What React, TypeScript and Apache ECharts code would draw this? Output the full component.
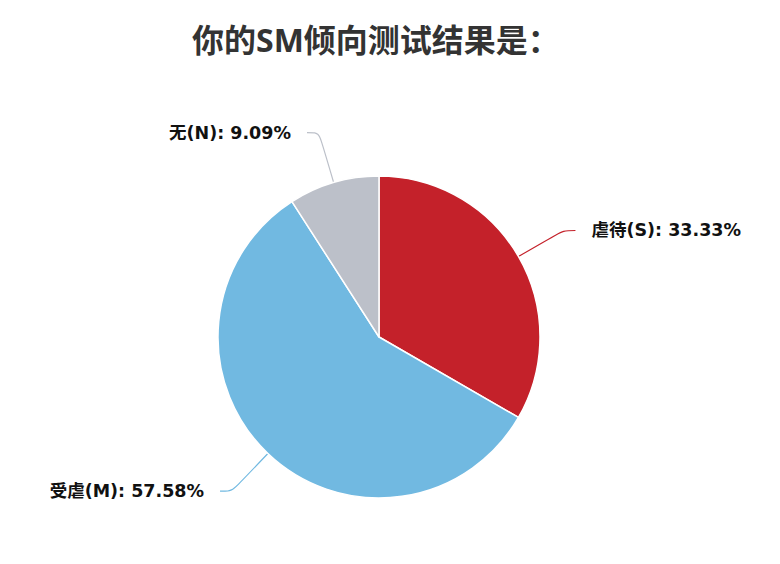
import React, { useEffect, useRef } from "react";
import * as echarts from "echarts";

const titleText = "你的SM倾向测试结果是：";
const categories = ["虐待(S)", "受虐(M)", "无(N)"];
const values = [33.33, 57.58, 9.09];
const colors = ["#c4212a", "#71b9e1", "#bcc0c9"];

export default function App() {
  const ref = useRef<HTMLDivElement>(null);
  useEffect(() => {
    const chart = echarts.init(ref.current!, null, { renderer: "svg" });
    chart.setOption({
      animation: false,
      title: {
        text: titleText,
        left: 187,
        top: 18,
        textStyle: {
          fontSize: 32,
          fontWeight: "bold",
          color: "#333333",
          fontFamily: "'Open Sans', 'Noto Sans CJK SC'",
        },
      },
      series: [
        {
          type: "pie",
          center: [379, 337],
          radius: 161,
          startAngle: 90,
          clockwise: true,
          itemStyle: { borderColor: "#ffffff", borderWidth: 1.5 },
          label: {
            show: true,
            formatter: (p: any) => `${p.name}: ${p.value.toFixed(2)}%`,
            fontSize: 17.5,
            fontWeight: "bold",
            color: "#111111",
            fontFamily: "'DejaVu Sans', 'Noto Sans CJK SC'",
            distanceToLabelLine: 16,
            padding: [6, 0, 0, 0],
          },
          labelLine: {
            show: true,
            length: 52,
            length2: 12,
            smooth: 0.3,
            lineStyle: { width: 1.2 },
          },
          emphasis: { disabled: true },
          data: categories.map((c, i) => ({
            name: c,
            value: values[i],
            itemStyle: { color: colors[i] },
            labelLine: { lineStyle: { color: colors[i] } },
          })),
        },
      ],
    });
    return () => chart.dispose();
  }, []);
  return (
    <div
      ref={ref}
      style={{ position: "fixed", left: 0, top: 0, width: 780, height: 564, background: "#fff" }}
    />
  );
}
